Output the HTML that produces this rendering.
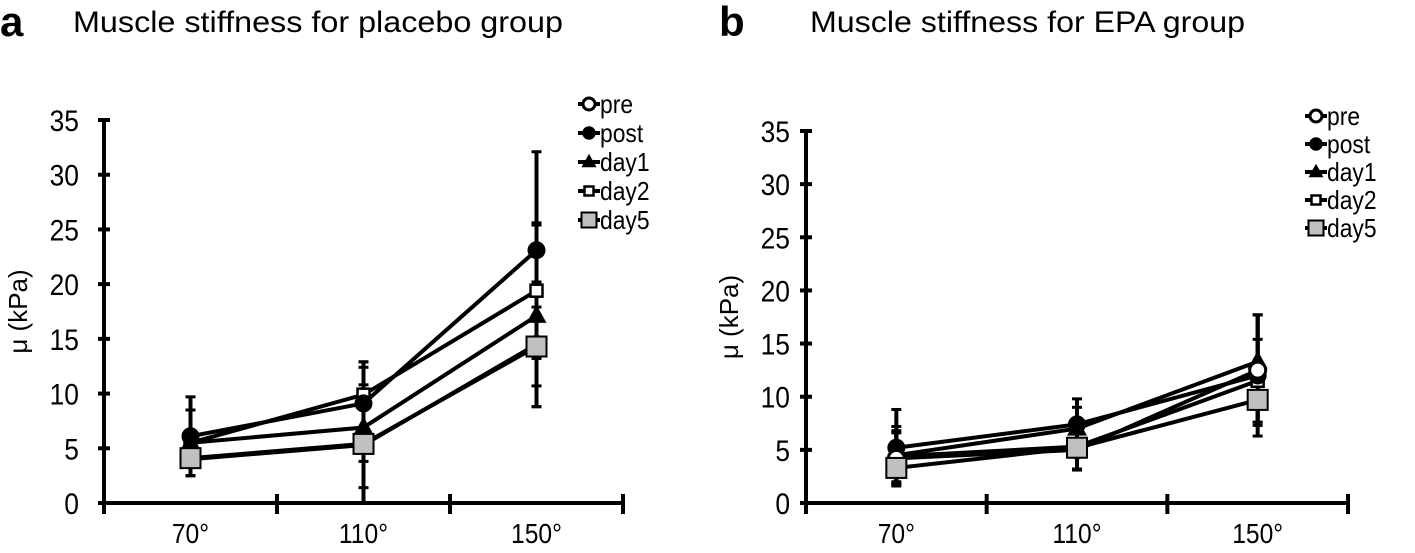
<!DOCTYPE html>
<html><head><meta charset="utf-8"><style>
body{margin:0;background:#fff;}
svg text{font-family:"Liberation Sans",Arial,sans-serif;fill:#000;}
</style></head><body>
<svg id="svg" width="1415" height="548" xmlns="http://www.w3.org/2000/svg"></svg>
<script>
const categories = ["70°","110°","150°"];
const yTicks = [0,5,10,15,20,25,30,35];
const seriesNames = ["pre","post","day1","day2","day5"];
// panel a (placebo)
const aPre  = [4.0, 5.3, 14.5];
const aPost = [6.1, 9.1, 23.1];
const aDay1 = [5.5, 6.9, 17.1];
const aDay2 = [5.5, 9.9, 19.4];
const aDay5 = [4.1, 5.4, 14.3];
const aPreSD  = [1.5, 1.5, 5.7];
const aPostSD = [3.6, 3.8, 9.0];
const aDay1SD = [3.0, 5.5, 8.3];
const aDay2SD = [3.0, 3.0, 6.2];
const aDay5SD = [1.6, 5.4, 3.6];
// panel b (EPA)
const bPre  = [4.2, 5.0, 12.5];
const bPost = [5.2, 7.4, 12.0];
const bDay1 = [4.5, 7.0, 13.3];
const bDay2 = [4.4, 5.3, 11.5];
const bDay5 = [3.3, 5.2, 9.7];
const bPreSD  = [2.4, 1.9, 5.2];
const bPostSD = [3.6, 2.4, 5.7];
const bDay1SD = [2.7, 2.0, 4.4];
const bDay2SD = [2.4, 2.1, 3.9];
const bDay5SD = [1.5, 2.0, 2.1];

const NS="http://www.w3.org/2000/svg";
const svg=document.getElementById('svg');
function mk(tag,attrs,parent){const e=document.createElementNS(NS,tag);for(const k in attrs)e.setAttribute(k,attrs[k]);(parent||svg).appendChild(e);return e;}

function panel(p){
  const g=mk('g',{});
  
  
  const y=v=>p.y0-(v/35)*(p.y0-p.y35);
  const step=(p.xr-p.xl)/categories.length;
  const x=i=>p.xl+step*(i+0.5);
  const ax=mk('line',{x1:p.xl,y1:y(35)-1,x2:p.xl,y2:p.y0+2,stroke:'#000','stroke-width':4},g);
  
  
  const bx=mk('line',{x1:p.xl-2,y1:p.y0,x2:p.xr+2,y2:p.y0,stroke:'#000','stroke-width':4},g);
  
  
  yTicks.forEach(t=>{
    mk('line',{x1:p.xl-6,x2:p.xl+6,y1:y(t),y2:y(t),stroke:'#000','stroke-width':4},g);
    const tx=mk('text',{x:p.tlx,y:y(t)+11,'text-anchor':'end','font-size':30,transform:`translate(${p.tlx*0.12},0) scale(0.88,1)`},g);
    tx.textContent=t;
    
    
  });
  for(let i=0;i<=categories.length;i++){
    mk('line',{x1:p.xl+step*i,x2:p.xl+step*i,y1:p.y0-9,y2:p.y0+11,stroke:'#000','stroke-width':4},g);
  }
  categories.forEach((c,i)=>{
    const tx=mk('text',{x:x(i),y:p.y0+40,'text-anchor':'middle','font-size':28,transform:`translate(${x(i)*0.12},0) scale(0.88,1)`},g);
    tx.textContent=c;
    
    
  });
  const yt=mk('text',{x:0,y:0,'text-anchor':'middle','font-size':26,transform:`translate(${p.ytx},${(y(0)+y(35))/2}) rotate(-90)`},g);
  yt.textContent='μ (kPa)';
  
  
  p.series.forEach((s,si)=>{
    s.v.forEach((v,i)=>{
      const e=mk('g',{},g);
      
      
      const lo=Math.max(0,v-s.sd[i]),hi=v+s.sd[i];
      mk('line',{x1:x(i),x2:x(i),y1:y(hi),y2:y(lo),stroke:'#000','stroke-width':4},e);
      mk('line',{x1:x(i)-5,x2:x(i)+5,y1:y(hi),y2:y(hi),stroke:'#000','stroke-width':3},e);
      mk('line',{x1:x(i)-5,x2:x(i)+5,y1:y(lo),y2:y(lo),stroke:'#000','stroke-width':3},e);
    });
  });
  const order=[3,2,1,0,4];
  order.forEach(si=>{
    const s=p.series[si];
    const l=mk('polyline',{points:s.v.map((v,i)=>x(i)+','+y(v)).join(' '),fill:'none',stroke:'#000','stroke-width':4},g);
    
    
  });
  order.forEach(si=>{
    const s=p.series[si];
    s.v.forEach((v,i)=>{
      const m=marker(si,x(i),y(v),1,g);
      
      
    });
  });
  seriesNames.forEach((n,si)=>{
    const lg=mk('g',{},g);
    
    
    const ly=p.ly+si*p.lstep;
    mk('line',{x1:p.lx,x2:p.lx+22,y1:ly,y2:ly,stroke:'#000','stroke-width':4},lg);
    marker(si,p.lx+11,ly,0.75,lg);
    const t=mk('text',{x:p.lx+22,y:ly+9,'font-size':26,transform:`translate(${(p.lx+22)*0.12},0) scale(0.88,1)`},lg);
    t.textContent=n;
  });
}
function marker(si,cx,cy,s,parent){
  if(si===0) return mk('circle',{cx,cy,r:8*s,fill:'#fff',stroke:'#000','stroke-width':3},parent);
  if(si===1) return mk('circle',{cx,cy,r:9*s,fill:'#000'},parent);
  if(si===2) return mk('polygon',{points:`${cx},${cy-11*s} ${cx+10*s},${cy+7*s} ${cx-10*s},${cy+7*s}`,fill:'#000'},parent);
  if(si===3) return mk('rect',{x:cx-6*s,y:cy-6*s,width:12*s,height:12*s,fill:'#fff',stroke:'#000','stroke-width':2.5},parent);
  return mk('rect',{x:cx-10*s,y:cy-10*s,width:20*s,height:20*s,fill:'#c0c0c0',stroke:'#000','stroke-width':2},parent);
}
panel({id:'placebo',xl:104,xr:623,y0:503,y35:120,ytx:27,tlx:79,lx:578,ly:104,lstep:29,
  series:[{v:aPre,sd:aPreSD},{v:aPost,sd:aPostSD},{v:aDay1,sd:aDay1SD},{v:aDay2,sd:aDay2SD},{v:aDay5,sd:aDay5SD}]});
panel({id:'epa',xl:806,xr:1348,y0:503,y35:131,ytx:738,tlx:790,lx:1305,ly:116,lstep:28,
  series:[{v:bPre,sd:bPreSD},{v:bPost,sd:bPostSD},{v:bDay1,sd:bDay1SD},{v:bDay2,sd:bDay2SD},{v:bDay5,sd:bDay5SD}]});
</script>
<svg style="position:absolute;left:0;top:0" width="1415" height="60" xmlns="http://www.w3.org/2000/svg">
<text x="0" y="36" font-size="42" font-weight="bold">a</text>
<text x="73" y="32" font-size="30" textLength="490" lengthAdjust="spacingAndGlyphs">Muscle stiffness for placebo group</text>
<text x="719" y="36" font-size="42" font-weight="bold">b</text>
<text x="810" y="32" font-size="30" textLength="435" lengthAdjust="spacingAndGlyphs">Muscle stiffness for EPA group</text>
</svg>
</body></html>
